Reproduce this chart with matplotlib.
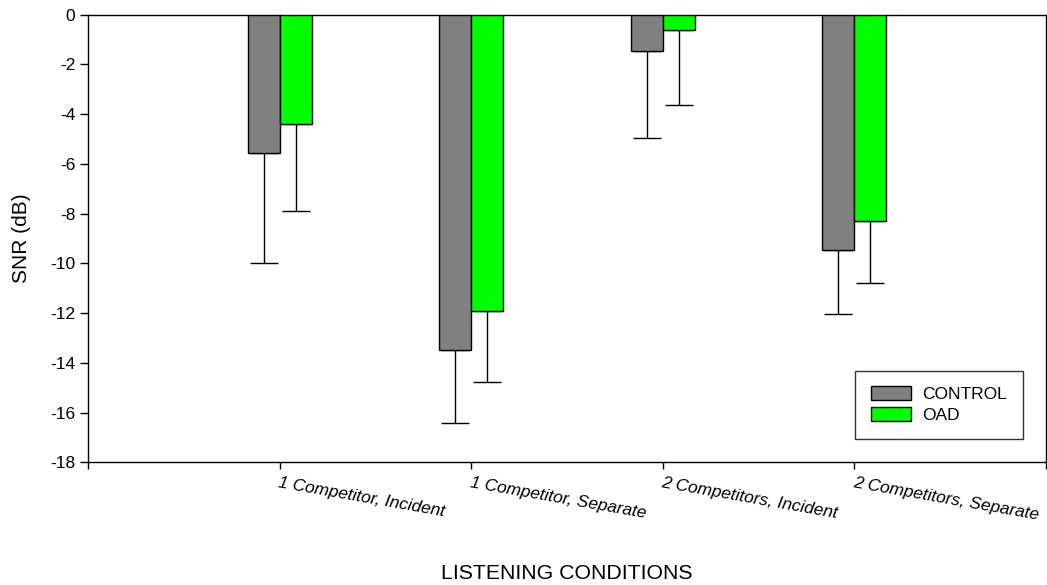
import matplotlib
matplotlib.use("Agg")
import matplotlib.pyplot as plt
import numpy as np

plt.rcParams['font.family'] = ['Liberation Sans', 'DejaVu Sans']

conditions = ["1 Competitor, Incident", "1 Competitor, Separate",
              "2 Competitors, Incident", "2 Competitors, Separate"]
control_mean = [-5.55, -13.5, -1.45, -9.45]
control_err = [4.45, 2.9, 3.5, 2.6]
oad_mean = [-4.4, -11.9, -0.6, -8.3]
oad_err = [3.5, 2.85, 3.05, 2.5]

fig = plt.figure(figsize=(10.47, 5.85), dpi=100)
ax = fig.add_axes([0.084, 0.2097, 0.9151, 0.7652])

x = np.arange(1, len(conditions) + 1)
w = 0.167

err_kw = dict(ecolor='black', elinewidth=1.0, capsize=10, capthick=1.0)
ax.bar(x - w / 2, control_mean, w, color='#808080', edgecolor='black',
       linewidth=1.0, label='CONTROL', zorder=3)
ax.bar(x + w / 2, oad_mean, w, color='#00ff00', edgecolor='black',
       linewidth=1.0, label='OAD', zorder=3)
ax.errorbar(x - w / 2, control_mean, yerr=[control_err, [0] * 4],
            fmt='none', zorder=2, **err_kw)
ax.errorbar(x + w / 2, oad_mean, yerr=[oad_err, [0] * 4],
            fmt='none', zorder=2, **err_kw)

ax.set_xlim(0, len(conditions) + 1)
ax.set_ylim(-18, 0)
ax.set_yticks(np.arange(-18, 1, 2))
ax.set_yticklabels([str(v) for v in range(-18, 1, 2)], fontsize=12.5)

ax.set_xticks(np.arange(0, len(conditions) + 2))
ax.set_xticklabels([""] + conditions + [""], fontsize=12.5, style='italic',
                   rotation=-10, ha='left', va='top', rotation_mode='anchor')
ax.tick_params(axis='x', direction='out', length=5, width=1, pad=4)
ax.tick_params(axis='y', direction='out', length=6, width=1, pad=3)

for s in ax.spines.values():
    s.set_linewidth(1.0)

ax.set_ylabel("SNR (dB)", fontsize=15, labelpad=14)
fig.text(0.5416, 0.003, "LISTENING CONDITIONS", ha='center', va='bottom',
         fontsize=15.3)

leg = ax.legend(loc='lower right', bbox_to_anchor=(0.9755, 0.053),
                frameon=True, fancybox=False, edgecolor='black',
                fontsize=12.5, handlelength=2.3, handleheight=0.8,
                handletextpad=0.65, borderpad=0.9, labelspacing=0.3,
                borderaxespad=0)
leg.get_frame().set_linewidth(1.0)

fig.savefig("out.png", dpi=100, facecolor='white')
